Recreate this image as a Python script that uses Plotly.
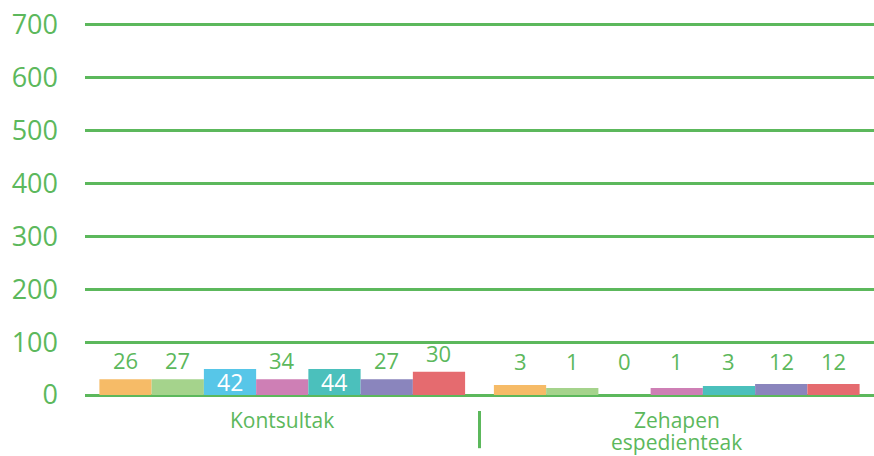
import plotly.graph_objects as go

# ---- data -------------------------------------------------------------
categories = ["Kontsultak", "Zehapen<br>espedienteak"]
series_names = ["Serie 1", "Serie 2", "Serie 3", "Serie 4", "Serie 5", "Serie 6", "Serie 7"]
# printed value labels, per series: [Kontsultak, Zehapen espedienteak]
label_values = [
    [26, 3],
    [27, 1],
    [42, 0],
    [34, 1],
    [44, 3],
    [27, 12],
    [30, 12],
]
# bar heights as drawn in the picture (read against the y axis)
bar_heights = [
    [30, 19],
    [30, 13],
    [49, 0],
    [30, 13],
    [49, 17],
    [30, 21],
    [44, 21],
]
y_ticks = [0, 100, 200, 300, 400, 500, 600, 700]

# ---- style --------------------------------------------------------------
colors = ["#F6BB67", "#A5D38C", "#57C6E8", "#CE7FB5", "#4BC0BC", "#8A85BD", "#E56B6F"]
green = "#5CB85C"
wide_font = "Open Sans"

bargap = 0.073
n = len(series_names)
x_pos = list(range(len(categories)))

fig = go.Figure()
for i, name in enumerate(series_names):
    fig.add_trace(go.Bar(
        x=x_pos, y=[bar_heights[i][c] for c in x_pos], name=name,
        marker=dict(color=colors[i], line=dict(width=0)),
        hoverinfo="skip",
    ))

# value labels
bw = (1 - bargap) / n
for c in x_pos:
    group_top = max(bar_heights[i][c] for i in range(n))
    for i in range(n):
        xc = c - (1 - bargap) / 2 + bw * (i + 0.5)
        h = bar_heights[i][c]
        txt = str(label_values[i][c])
        if c == 0 and h >= 45:
            fig.add_annotation(x=xc, y=h / 2, text=txt, showarrow=False,
                               yanchor="middle",
                               font=dict(family=wide_font, size=23, color="white"))
        elif c == 0:
            fig.add_annotation(x=xc, y=h, text=txt, showarrow=False,
                               yanchor="bottom", yshift=2,
                               font=dict(family=wide_font, size=22, color=green))
        else:
            fig.add_annotation(x=xc, y=group_top, text=txt, showarrow=False,
                               yanchor="bottom", yshift=6,
                               font=dict(family=wide_font, size=22, color=green))

# category labels (one annotation per text line, tighter line spacing)
for c in x_pos:
    for k, line in enumerate(categories[c].split("<br>")):
        fig.add_annotation(x=c, y=0, text=line, showarrow=False,
                           yanchor="middle", yshift=-25 - 22 * k,
                           font=dict(family=wide_font, size=21, color=green))

# divider between categories
fig.add_shape(type="line", xref="x", yref="paper", x0=0.5, x1=0.5,
              y0=-0.043, y1=-0.143, line=dict(color=green, width=3))

fig.update_layout(
    width=874, height=456,
    margin=dict(l=85, r=0, t=23, b=61),
    paper_bgcolor="white", plot_bgcolor="white",
    barmode="group", bargap=bargap, bargroupgap=0,
    showlegend=False,
    font=dict(family=wide_font, color=green),
)
fig.update_xaxes(
    tickvals=x_pos, ticktext=categories, range=[-0.5, 1.5],
    showticklabels=False, automargin=False,
    showgrid=False, zeroline=False, showline=False, ticks="",
)
fig.update_yaxes(
    range=[0, 703], tickvals=y_ticks, showgrid=True, gridcolor=green, gridwidth=3,
    zeroline=True, zerolinecolor=green, zerolinewidth=3, automargin=False,
    showline=False, ticks="", ticklabelstandoff=26,
    tickfont=dict(family=wide_font, size=27, color=green),
)

fig.write_html(
    "out.html",
    config={"displayModeBar": False},
    post_script="document.body.style.margin='0';document.body.style.overflow='hidden';",
)
